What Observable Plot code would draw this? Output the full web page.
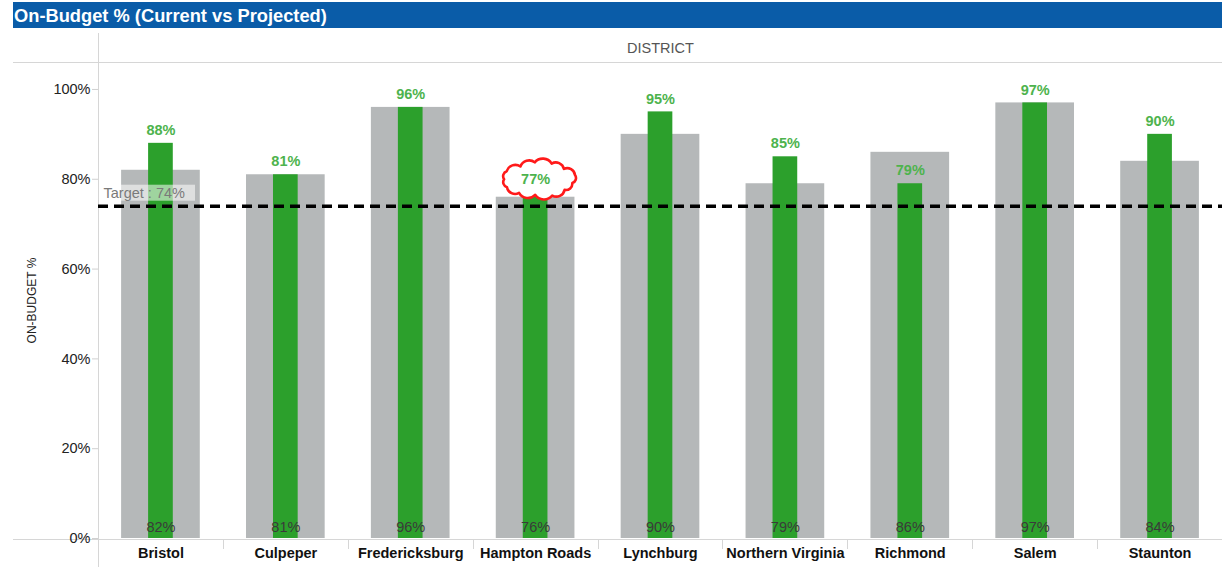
<!DOCTYPE html>
<html>
<head>
<meta charset="utf-8">
<script src="https://cdn.jsdelivr.net/npm/d3@7"></script>
<script src="https://cdn.jsdelivr.net/npm/@observablehq/plot@0.6"></script>
<style>
  html, body { margin: 0; padding: 0; background: #fff; }
  body { width: 1222px; height: 567px; overflow: hidden; font-family: "Liberation Sans", Arial, sans-serif; }
  #title { position: absolute; left: 13px; top: 2px; width: 1209px; height: 26px; background: #0a5ca8; color: #fff; font-weight: bold; font-size: 18.3px; line-height: 27px; padding-left: 1px; box-sizing: border-box; }
  #chart { position: absolute; left: 0; top: 30px; }
</style>
</head>
<body>
<div id="title">On-Budget % (Current vs Projected)</div>
<div id="chart"></div>
<script>
const districts = ["Bristol", "Culpeper", "Fredericksburg", "Hampton Roads", "Lynchburg", "Northern Virginia", "Richmond", "Salem", "Staunton"];
const currentPct = [82, 81, 96, 76, 90, 79, 86, 97, 84];   // gray bars, labels at base
const projectedPct = [88, 81, 96, 77, 95, 85, 79, 97, 90]; // green bars, labels on top
const target = 74;
const yTicks = [0, 20, 40, 60, 80, 100];
const highlighted = "Hampton Roads";

const rows = districts.map((d, i) => ({district: d, current: currentPct[i], projected: projectedPct[i]}));

const gray = "#b5b8b9";
const green = "#2ca02c";
const labelGreen = "#4db34d";

// structural lines: header line, left axis line, bottom baseline, band separators
function structure(index, scales, values, dim) {
  const g = d3.create("svg:g");
  const x = scales.x, y = scales.y;
  const step = x(districts[1]) - x(districts[0]);
  const half = (step - x.bandwidth()) / 2;
  const y0 = y(0);
  g.append("line").attr("x1", 13).attr("x2", dim.width).attr("y1", dim.marginTop + 0.5).attr("y2", dim.marginTop + 0.5).attr("stroke", "#d6d6d6");
  g.append("line").attr("x1", 13).attr("x2", dim.width).attr("y1", y0 + 1.5).attr("y2", y0 + 1.5).attr("stroke", "#d6d6d6");
  g.append("line").attr("x1", dim.marginLeft + 0.5).attr("x2", dim.marginLeft + 0.5).attr("y1", 3).attr("y2", dim.height).attr("stroke", "#d6d6d6");
  districts.slice(1).forEach(d => {
    const xx = Math.round(x(d) - half) + 0.5;
    g.append("line").attr("x1", xx).attr("x2", xx).attr("y1", y0 + 1).attr("y2", y0 + 11).attr("stroke", "#d6d6d6");
  });
  return g.node();
}

// background box behind the target label
function targetBox(index, scales, values, dim) {
  const yy = scales.y(target);
  return d3.create("svg:rect")
    .attr("x", dim.marginLeft + 2).attr("y", yy - 21)
    .attr("width", 95).attr("height", 16)
    .attr("fill", "#fff").attr("fill-opacity", 0.55).node();
}

// red hand-drawn style cloud around the highlighted label
function cloud(index, scales, values, dim) {
  const i = districts.indexOf(highlighted);
  const cx = scales.x(highlighted) + scales.x.bandwidth() / 2 + 4;
  const cy = scales.y(projectedPct[i]) - 13;
  const rx = 35, ry = 16.5, n = 13;
  const pts = d3.range(n).map(k => {
    const a = Math.PI + (2 * Math.PI * k) / n;
    const j = 1 + 0.06 * Math.sin(k * 2.3);
    return [cx + rx * j * Math.cos(a), cy + ry * j * Math.sin(a)];
  });
  let p = `M${pts[0][0]},${pts[0][1]}`;
  for (let k = 1; k <= n; k++) {
    const [x1, y1] = pts[k % n];
    const [x0, y0] = pts[k - 1];
    const r = Math.hypot(x1 - x0, y1 - y0) * 0.62;
    p += `A${r},${r} 0 0 1 ${x1},${y1}`;
  }
  p += "Z";
  return d3.create("svg:path").attr("d", p).attr("fill", "#fff").attr("stroke", "#ff1a1a").attr("stroke-width", 2.6).attr("stroke-linejoin", "round").node();
}

const chart = Plot.plot({
  width: 1222,
  height: 537,
  marginLeft: 98,
  marginRight: 0,
  marginTop: 32,
  marginBottom: 29,
  style: {fontFamily: "'Liberation Sans', Arial, sans-serif", background: "#fff", overflow: "visible"},
  x: {domain: districts, paddingInner: 0.37, paddingOuter: 0.185, round: false, label: null},
  y: {domain: [0, 106], label: null},
  marks: [
    structure,
    Plot.barY(rows, {x: "district", y: "current", fill: gray}),
    Plot.barY(rows, {x: "district", y: "projected", fill: green, insetLeft: 27, insetRight: 27}),
    Plot.ruleY([target], {stroke: "#000", strokeWidth: 3.5, strokeDasharray: "10,6"}),
    targetBox,
    Plot.text([`Target : ${target}%`], {y: () => target, frameAnchor: "left", dx: 5, dy: -13, textAnchor: "start", fill: "#7a7a7a", fontSize: 14.5}),
    cloud,
    Plot.text(rows, {x: "district", y: "projected", text: d => d.projected + "%", dy: -13, fill: labelGreen, fontWeight: "bold", fontSize: 14.5}),
    Plot.text(rows, {x: "district", y: () => 0, text: d => d.current + "%", dy: -11, fill: "#3a3a3a", fontSize: 14.5}),
    Plot.axisY({ticks: yTicks, tickFormat: d => d + "%", tickSize: 6, tickPadding: 2, stroke: "#d0d0d0", fill: "#222", fontSize: 14.5, label: null}),
    Plot.axisX({tickSize: 0, tickPadding: 9, fill: "#111", fontSize: 14.5, fontWeight: "bold", label: null}),
    Plot.text(["DISTRICT"], {frameAnchor: "top", dy: -20, fill: "#555", fontSize: 14.5}),
    Plot.text(["ON-BUDGET %"], {frameAnchor: "left", textAnchor: "middle", rotate: -90, dx: -66, fill: "#222", fontSize: 12})
  ]
});
document.getElementById("chart").appendChild(chart);
</script>
</body>
</html>
